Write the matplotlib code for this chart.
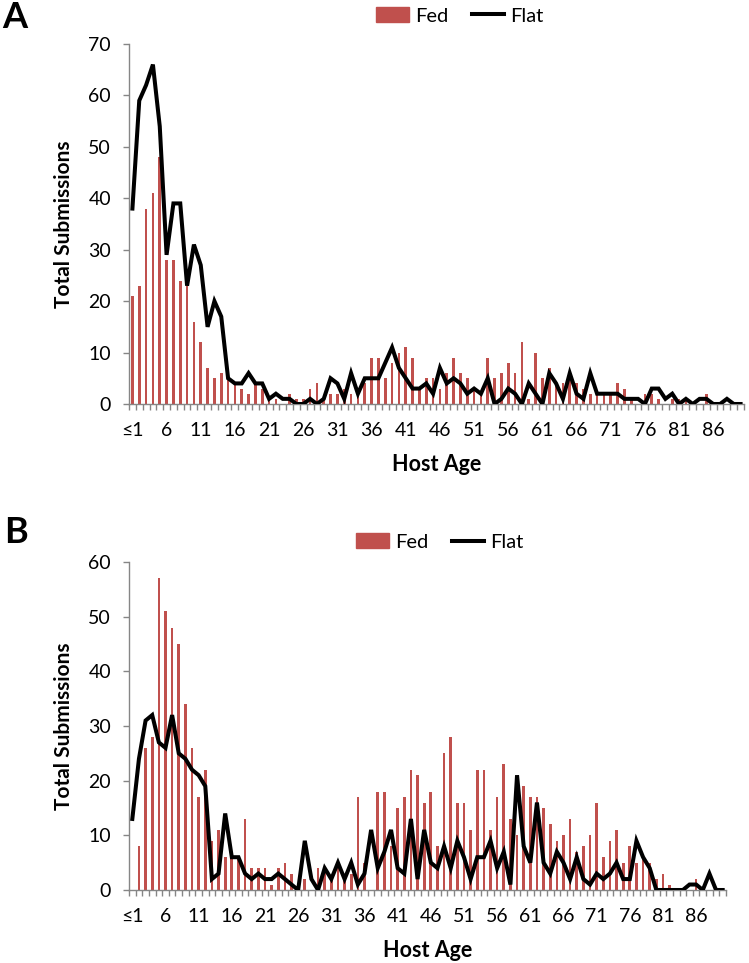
import numpy as np
import matplotlib
matplotlib.use("Agg")
import matplotlib.pyplot as plt
from matplotlib.lines import Line2D
from matplotlib.patches import Patch

plt.rcParams['font.family'] = ['Lato', 'DejaVu Sans']

# host age categories: <=1, 2, ..., 90
ages = ["≤1"] + [str(a) for a in range(2, 91)]

fedA = [21, 23, 38, 41, 48, 28, 28, 24, 23, 16,
        12, 7, 5, 6, 5, 4, 3, 2, 4, 3,
        1, 1, 0, 2, 1, 1, 3, 4, 1, 2,
        2, 3, 2, 2, 4, 9, 9, 5, 8, 10,
        11, 9, 3, 5, 5, 3, 6, 9, 6, 5,
        3, 2, 9, 5, 6, 8, 6, 12, 1, 10,
        5, 7, 4, 4, 5, 4, 3, 2, 2, 2,
        2, 4, 3, 1, 0, 2, 2, 1, 0, 1,
        1, 1, 0, 0, 2, 0, 0, 0, 0, 0]
flatA = [38, 59, 62, 66, 54, 29, 39, 39, 23, 31,
         27, 15, 20, 17, 5, 4, 4, 6, 4, 4,
         1, 2, 1, 1, 0, 0, 1, 0, 1, 5,
         4, 1, 6, 2, 5, 5, 5, 8, 11, 7,
         5, 3, 3, 4, 2, 7, 4, 5, 4, 2,
         3, 2, 5, 0, 1, 3, 2, 0, 4, 2,
         0, 6, 4, 1, 6, 2, 1, 6, 2, 2,
         2, 2, 1, 1, 1, 0, 3, 3, 1, 2,
         0, 1, 0, 1, 1, 0, 0, 1, 0, 0]

fedB = [0, 8, 26, 28, 57, 51, 48, 45, 34, 26,
        17, 22, 9, 11, 6, 6, 6, 13, 4, 4,
        4, 1, 4, 5, 3, 0, 2, 0, 4, 4,
        2, 4, 3, 3, 17, 5, 0, 18, 18, 8,
        15, 17, 22, 21, 16, 18, 8, 25, 28, 16,
        16, 11, 22, 22, 11, 17, 23, 13, 10, 19,
        17, 17, 15, 12, 9, 10, 13, 7, 8, 10,
        16, 6, 9, 11, 5, 8, 5, 6, 5, 2,
        3, 1, 0, 0, 0, 2, 0, 0, 0, 0]
flatB = [13, 24, 31, 32, 27, 26, 32, 25, 24, 22,
         21, 19, 2, 3, 14, 6, 6, 3, 2, 3,
         2, 2, 3, 2, 1, 0, 9, 2, 0, 4,
         2, 5, 2, 5, 1, 3, 11, 4, 7, 11,
         4, 3, 13, 2, 11, 5, 4, 8, 4, 9,
         6, 2, 6, 6, 9, 4, 7, 1, 21, 8,
         5, 16, 5, 3, 7, 5, 2, 6, 2, 1,
         3, 2, 3, 5, 2, 2, 9, 6, 4, 0,
         0, 0, 0, 0, 1, 1, 0, 3, 0, 0]

bar_col = "#C0504D"
axis_col = "#868686"


def draw_panel(ax, fed, flat, ymax):
    x = np.arange(len(ages))
    ax.bar(x, fed, width=0.4, color=bar_col, zorder=2)
    ax.plot(x, flat, color="black", lw=2.9, zorder=3, solid_joinstyle="miter")
    ax.set_xlim(-0.5, len(ages) - 0.5)
    ax.set_ylim(0, ymax)
    ax.set_yticks(np.arange(0, ymax + 1, 10))
    ax.set_xticks(x[::5])
    ax.set_xticklabels(ages[::5])
    ax.set_xticks(np.arange(-0.5, len(ages), 1), minor=True)
    ax.tick_params(axis="x", which="major", length=0, labelsize=14, pad=13)
    ax.tick_params(axis="x", which="minor", length=4, color=axis_col, width=1)
    ax.tick_params(axis="y", length=4, color=axis_col, width=1, labelsize=14, pad=9)
    for s in ["top", "right"]:
        ax.spines[s].set_visible(False)
    for s in ["left", "bottom"]:
        ax.spines[s].set_color(axis_col)
        ax.spines[s].set_linewidth(1)
    ax.set_xlabel("Host Age", fontsize=15.5, fontweight="bold", labelpad=11)
    ax.set_ylabel("Total Submissions", fontsize=15, fontweight="bold", labelpad=10)


fig = plt.figure(figsize=(7.49, 9.63), dpi=100)
axA = fig.add_axes([129 / 749, 1 - 404 / 963, 615 / 749, 360 / 963])
axB = fig.add_axes([129 / 749, 1 - 890 / 963, 597 / 749, 328 / 963])

draw_panel(axA, fedA, flatA, 70)
draw_panel(axB, fedB, flatB, 60)

handles = [Patch(color=bar_col), Line2D([], [], color="black", lw=2.9)]
fig.legend(handles, ["Fed", "Flat"], loc="center", bbox_to_anchor=(460 / 749, 1 - 16 / 963),
           ncol=2, frameon=False, fontsize=14.5, handlelength=1.6, handletextpad=0.3, columnspacing=1.2)
fig.legend(handles, ["Fed", "Flat"], loc="center", bbox_to_anchor=(440 / 749, 1 - 542 / 963),
           ncol=2, frameon=False, fontsize=14.5, handlelength=1.6, handletextpad=0.3, columnspacing=1.2)

fig.text(2 / 749, 1 - 18 / 963, "A", fontsize=26, fontweight="bold", va="center")
fig.text(4 / 749, 1 - 532 / 963, "B", fontsize=26, fontweight="bold", va="center")

fig.savefig("out.png", dpi=100)
